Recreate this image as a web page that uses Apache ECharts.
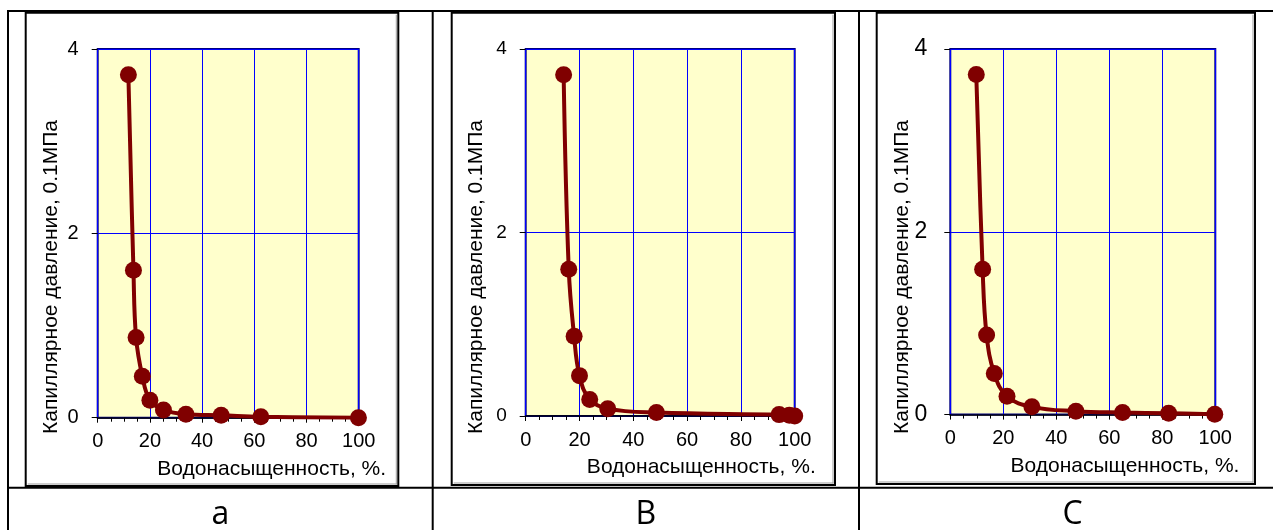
<!DOCTYPE html>
<html>
<head>
<meta charset="utf-8">
<script src="https://cdn.jsdelivr.net/npm/echarts@6/dist/echarts.min.js"></script>
<style>
html,body{margin:0;padding:0;background:#fff;}
#main{width:1273px;height:530px;}
</style>
</head>
<body>
<div id="main"></div>
<script>
// ---- data ----
var xTitle = 'Водонасыщенность, %.';
var yTitle = 'Капиллярное давление, 0.1МПа';
var panelLabels = ['a', 'B', 'C'];
var xTicks = [0, 20, 40, 60, 80, 100];
var yTicks = [0, 2, 4];

var satA = [11.75, 13.7, 14.7, 17.1, 20.0, 25.2, 33.8, 47.3, 62.5, 99.9];
var presA = [3.72, 1.60, 0.87, 0.45, 0.19, 0.084, 0.037, 0.026, 0.011, 0.0];

var satB = [14.1, 16.0, 18.0, 20.0, 23.8, 30.5, 48.6, 94.2, 98.0, 100];
var presB = [3.72, 1.60, 0.87, 0.44, 0.18, 0.08, 0.037, 0.015, 0.007, 0.0];

var satC = [9.8, 12.2, 13.7, 16.6, 21.4, 30.8, 47.4, 65.0, 82.4, 99.8];
var presC = [3.72, 1.59, 0.87, 0.45, 0.20, 0.085, 0.037, 0.022, 0.015, 0.004];

// ---- layout ----
var FONT = "'Liberation Sans', Arial, sans-serif";
var panels = [
  {sx: satA, py: presA, grid: {left: 97.7, top: 49, width: 261, height: 368.7}, yFont: 20, yMargin: 19,
   box: [25.7, 12.7, 398.3, 486], xt: [271.7, 469], yt: [51.7, 277], lab: [220.3, 515]},
  {sx: satB, py: presB, grid: {left: 525.7, top: 49, width: 269, height: 367}, yFont: 19, yMargin: 19,
   box: [451.7, 12.7, 835, 485], xt: [701.3, 467.7], yt: [476.7, 277], lab: [645.8, 515]},
  {sx: satC, py: presC, grid: {left: 950.3, top: 49, width: 265, height: 365.6}, yFont: 23, yMargin: 23,
   box: [876.7, 12.7, 1255, 484], xt: [1125, 466.7], yt: [902.7, 277], lab: [1072.7, 515]}
];

function pairs(xs, ys) { return xs.map(function (x, i) { return [x, ys[i]]; }); }

var grids = [], xAxes = [], yAxes = [], series = [], graphics = [];

// table lines
var lineStyle = {stroke: '#000', lineWidth: 2};
[[7, 11, 1273, 11], [7, 487.7, 1273, 487.7], [8, 10, 8, 530], [432.7, 10, 432.7, 530], [859, 10, 859, 530]]
  .forEach(function (l) {
    graphics.push({type: 'line', shape: {x1: l[0], y1: l[1], x2: l[2], y2: l[3]}, style: lineStyle, z: 1});
  });

panels.forEach(function (p, i) {
  grids.push({left: p.grid.left, top: p.grid.top, width: p.grid.width, height: p.grid.height,
    show: true, backgroundColor: '#FFFFCC', borderColor: '#000080', borderWidth: 2, containLabel: false});
  xAxes.push({type: 'value', gridIndex: i, min: xTicks[0], max: xTicks[xTicks.length - 1], interval: 20,
    axisLine: {show: true, onZero: false, lineStyle: {color: '#000', width: 1.5}},
    axisTick: {show: true, inside: false, length: 5, lineStyle: {color: '#000', width: 1}},
    minorTick: {show: true, splitNumber: 4, length: 4, lineStyle: {color: '#000', width: 1}},
    splitLine: {show: true, lineStyle: {color: '#0000FF', width: 1}},
    axisLabel: {fontSize: 20, color: '#000', fontFamily: FONT, margin: 14}});
  yAxes.push({type: 'value', gridIndex: i, min: yTicks[0], max: yTicks[yTicks.length - 1], interval: 2,
    axisLine: {show: false},
    axisTick: {show: true, inside: false, length: 6, lineStyle: {color: '#000', width: 1}},
    splitLine: {show: true, lineStyle: {color: '#0000FF', width: 1}},
    axisLabel: {fontSize: p.yFont, color: '#000', fontFamily: FONT, margin: p.yMargin}});
  series.push({type: 'line', xAxisIndex: i, yAxisIndex: i, data: pairs(p.sx, p.py),
    smooth: 0.4, symbol: 'circle', symbolSize: 17, showSymbol: true,
    lineStyle: {color: '#800000', width: 4}, itemStyle: {color: '#800000'}, z: 5});

  // chart box
  var b = p.box;
  graphics.push({type: 'rect', shape: {x: b[0], y: b[1], width: b[2] - b[0], height: b[3] - b[1]},
    style: {fill: null, stroke: '#000', lineWidth: 2}, z: 2});
  graphics.push({type: 'line', shape: {x1: b[2] - 2, y1: b[1] + 2, x2: b[2] - 2, y2: b[3] - 1.5},
    style: {stroke: '#9a9a9a', lineWidth: 1}, z: 2});
  graphics.push({type: 'line', shape: {x1: b[0] + 2, y1: b[3] - 2, x2: b[2] - 1.5, y2: b[3] - 2},
    style: {stroke: '#9a9a9a', lineWidth: 1}, z: 2});

  // axis titles
  graphics.push({type: 'text', x: p.xt[0], y: p.xt[1], z: 10,
    style: {text: xTitle, font: '21px ' + FONT, fill: '#000', textAlign: 'center', textVerticalAlign: 'middle'}});
  graphics.push({type: 'text', x: p.yt[0], y: p.yt[1], rotation: Math.PI / 2, z: 10,
    style: {text: yTitle, font: '21px ' + FONT, fill: '#000', textAlign: 'center', textVerticalAlign: 'middle'}});
  // panel label
  graphics.push({type: 'text', x: p.lab[0], y: p.lab[1], z: 10,
    style: {text: panelLabels[i], font: '32px "Open Sans", sans-serif', fill: '#000', textAlign: 'center', textVerticalAlign: 'middle'}});
});

var chart = echarts.init(document.getElementById('main'), null, {renderer: 'canvas'});
chart.setOption({
  backgroundColor: '#fff',
  animation: false,
  grid: grids,
  xAxis: xAxes,
  yAxis: yAxes,
  series: series,
  graphic: {elements: graphics}
});
</script>
</body>
</html>
